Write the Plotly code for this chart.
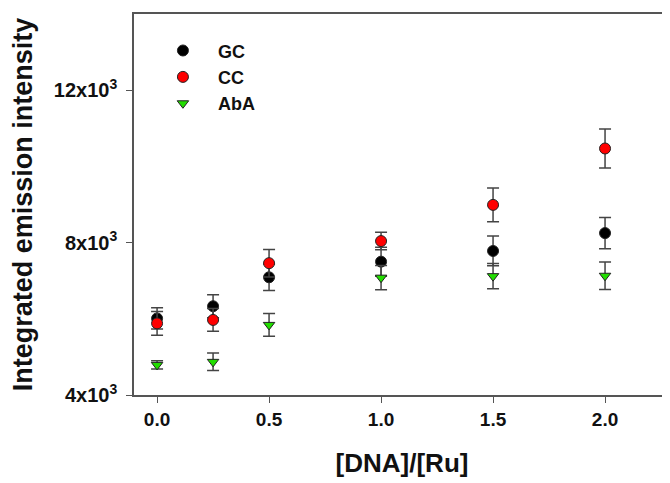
import plotly.graph_objects as go

x_ratio = [0.0, 0.25, 0.5, 1.0, 1.5, 2.0]
gc_vals = [6010, 6330, 7090, 7500, 7780, 8250]
gc_err = [280, 300, 350, 380, 390, 410]
cc_vals = [5880, 5970, 7460, 8040, 8990, 10470]
cc_err = [310, 300, 360, 230, 440, 510]
aba_vals = [4790, 4870, 5840, 7080, 7120, 7130]
aba_err = [110, 230, 300, 320, 330, 360]

y_tickvals = [4000, 8000, 12000]
y_ticktext = ["4x10<sup>3</sup>", "8x10<sup>3</sup>", "12x10<sup>3</sup>"]
x_tickvals = [0.0, 0.5, 1.0, 1.5, 2.0]

series = [
    ("GC", gc_vals, gc_err, "circle", "#000000", 11),
    ("CC", cc_vals, cc_err, "circle", "#ff0000", 11),
    ("AbA", aba_vals, aba_err, "triangle-down", "#22dd00", 10),
]

fig = go.Figure()
for name, vals, err, sym, col, sz in series:
    fig.add_trace(go.Scatter(
        x=x_ratio, y=vals, mode="markers", name=name, legendgroup=name,
        marker=dict(symbol=sym, color=col, size=sz, line=dict(color="#222222", width=1)),
        error_y=dict(type="data", array=err, visible=True, color="#444444", thickness=1.5, width=6),
    ))

font_fam = "Liberation Sans, Arial, sans-serif"
fig.update_layout(
    width=662, height=475,
    margin=dict(l=126, r=0, t=6, b=88),
    paper_bgcolor="white", plot_bgcolor="white",
    font=dict(family=font_fam, color="#111111"),
    showlegend=True,
    legend=dict(x=0.026, y=0.952, xanchor="left", yanchor="top",
                font=dict(size=18, family=font_fam, weight="bold"),
                itemwidth=60, tracegroupgap=0, bgcolor="rgba(0,0,0,0)"),
    xaxis=dict(range=[-0.103, 2.29], tickvals=x_tickvals, tickformat=".1f",
               showline=True, linecolor="#555555", linewidth=1.5, mirror=True,
               ticks="outside", ticklen=6, tickcolor="#555555", showgrid=False, zeroline=False,
               automargin=False,
               tickfont=dict(size=19, weight="bold"),
               title=dict(text="[DNA]/[Ru]", font=dict(size=26, weight="bold"), standoff=25)),
    yaxis=dict(range=[4000, 14000], tickvals=y_tickvals, ticktext=y_ticktext,
               showline=True, linecolor="#555555", linewidth=1.5,
               ticks="outside", ticklen=6, tickcolor="#555555", showgrid=False, zeroline=False,
               automargin=False, ticklabelstandoff=5,
               tickfont=dict(size=20, weight="bold"),
               title=dict(text="Integrated emission intensity", font=dict(size=27, weight="bold"), standoff=14)),
)

fig.write_html("out.html")
